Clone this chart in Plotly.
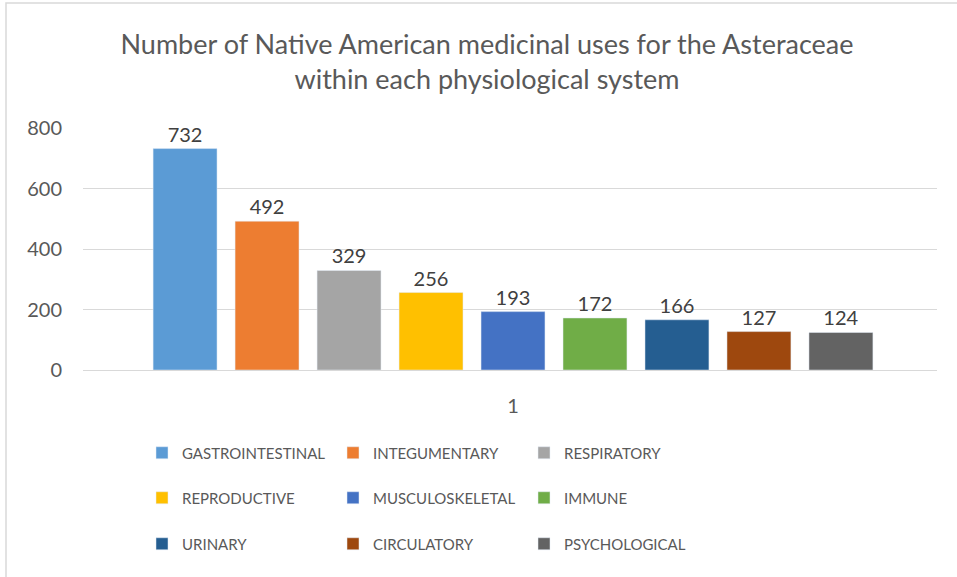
import plotly.graph_objects as go

categories = ["1"]
series_names = ["GASTROINTESTINAL", "INTEGUMENTARY", "RESPIRATORY",
                "REPRODUCTIVE", "MUSCULOSKELETAL", "IMMUNE",
                "URINARY", "CIRCULATORY", "PSYCHOLOGICAL"]
series_values = [732, 492, 329, 256, 193, 172, 166, 127, 124]
colors = ["#5B9BD5", "#ED7D31", "#A5A5A5", "#FFC000", "#4472C4",
          "#70AD47", "#255E91", "#9E480E", "#636363"]
y_ticks = [0, 200, 400, 600, 800]

FONT = "Lato, 'Open Sans', sans-serif"
TXT = "#595959"

fig = go.Figure()
legends = ["legend", "legend2", "legend3"]
for i, (name, val, col) in enumerate(zip(series_names, series_values, colors)):
    fig.add_trace(go.Bar(
        x=categories, y=[val], name=name, marker_color=col,
        text=[str(val)], textposition="outside",
        textfont=dict(size=20, color="#404040", family=FONT),
        cliponaxis=False, legend=legends[i // 3],
    ))

W, H = 957, 577
L, R, T, B = 83, 20, 128, 207
ph = H - T - B

def py(p):
    return (H - B - p) / ph

def px(p):
    return (p - L) / (W - L - R)

leg_common = dict(orientation="h", xanchor="left", yanchor="middle",
                  x=px(142), entrywidth=146, entrywidthmode="pixels",
                  font=dict(size=15, color=TXT, family=FONT),
                  bgcolor="rgba(0,0,0,0)", traceorder="normal")

shift = 3 / (W - L - R)

fig.update_layout(
    width=W, height=H,
    margin=dict(l=L, r=R, t=T, b=B),
    paper_bgcolor="white", plot_bgcolor="white",
    font=dict(family=FONT, color=TXT),
    title=dict(text="Number of Native American medicinal uses for the Asteraceae<br>within each physiological system",
               x=487 / W, xref="container", xanchor="center",
               y=1 - 54 / H, yref="container", yanchor="middle",
               font=dict(size=27, color=TXT, family=FONT)),
    barmode="group", bargap=0.136, bargroupgap=0.22,
    legend=dict(**leg_common, y=py(453)),
    legend2=dict(**leg_common, y=py(498)),
    legend3=dict(**leg_common, y=py(544)),
    yaxis=dict(range=[0, 800], tickvals=y_ticks, showgrid=True,
               gridcolor="#D9D9D9", gridwidth=1, zeroline=True,
               zerolinecolor="#D9D9D9", zerolinewidth=1,
               showline=False, ticklabelstandoff=20,
               tickfont=dict(size=20, color=TXT, family=FONT)),
    xaxis=dict(showline=False, showgrid=False, ticklabelstandoff=22,
               range=[-0.5 - shift, 0.5 - shift],
               tickfont=dict(size=20, color=TXT, family=FONT)),
    shapes=[dict(type="rect", xref="paper", yref="paper",
                 x0=px(6), x1=px(965), y0=py(585), y1=py(3),
                 line=dict(color="#D9D9D9", width=1.5), layer="below")],
)

fig.write_html("out.html", config={"displayModeBar": False},
               post_script="document.body.style.margin='0';document.body.style.overflow='hidden';")
